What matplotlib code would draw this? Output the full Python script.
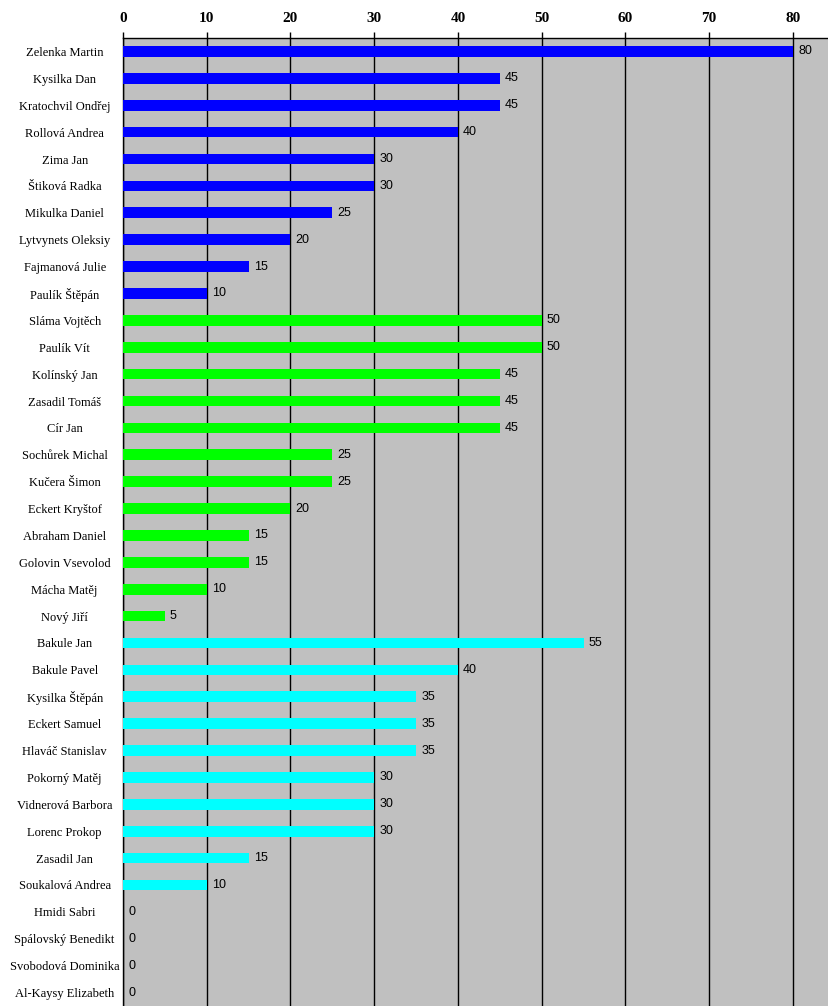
import matplotlib.pyplot as plt

names_blue = ['Zelenka Martin', 'Kysilka Dan', 'Kratochvil Ondřej', 'Rollová Andrea',
              'Zima Jan', 'Štiková Radka', 'Mikulka Daniel', 'Lytvynets Oleksiy',
              'Fajmanová Julie', 'Paulík Štěpán']
values_blue = [80, 45, 45, 40, 30, 30, 25, 20, 15, 10]

names_green = ['Sláma Vojtěch', 'Paulík Vít', 'Kolínský Jan', 'Zasadil Tomáš', 'Cír Jan',
               'Sochůrek Michal', 'Kučera Šimon', 'Eckert Kryštof', 'Abraham Daniel',
               'Golovin Vsevolod', 'Mácha Matěj', 'Nový Jiří']
values_green = [50, 50, 45, 45, 45, 25, 25, 20, 15, 15, 10, 5]

names_cyan = ['Bakule Jan', 'Bakule Pavel', 'Kysilka Štěpán', 'Eckert Samuel',
              'Hlaváč Stanislav', 'Pokorný Matěj', 'Vidnerová Barbora', 'Lorenc Prokop',
              'Zasadil Jan', 'Soukalová Andrea', 'Hmidi Sabri', 'Spálovský Benedikt',
              'Svobodová Dominika', 'Al-Kaysy Elizabeth']
values_cyan = [55, 40, 35, 35, 35, 30, 30, 30, 15, 10, 0, 0, 0, 0]

x_ticks = [0, 10, 20, 30, 40, 50, 60, 70, 80]

names = names_blue + names_green + names_cyan
values = values_blue + values_green + values_cyan
colors = (['#0000FF'] * len(names_blue) + ['#00FF00'] * len(names_green)
          + ['#00FFFF'] * len(names_cyan))
pos = list(range(len(names)))

fig = plt.figure(figsize=(8.29, 10.06), dpi=100)
ax = fig.add_axes([123 / 829, 0.0, 1 - 123 / 829, 1 - 38 / 1006])
ax.set_facecolor('#C0C0C0')

ax.barh(pos, values, height=0.4, color=colors, zorder=3)
for p, v in zip(pos, values):
    ax.text(v + 0.6, p, str(v), va='center', ha='left', fontsize=9,
            family='Liberation Sans', zorder=4)

ax.set_xlim(0, 84.3)
ax.set_ylim(len(names) - 0.5, -0.5)
ax.set_xticks(x_ticks)
ax.xaxis.tick_top()
ax.tick_params(axis='x', length=4, width=1, pad=5)
for lab in ax.get_xticklabels():
    lab.set_fontfamily('Liberation Serif')
    lab.set_fontweight('bold')
    lab.set_fontsize(11)
ax.grid(axis='x', color='black', linewidth=1, zorder=1)

ax.set_yticks(pos)
ax.set_yticklabels(names, fontsize=9, family='Liberation Serif', ha='center')
ax.tick_params(axis='y', length=0, pad=42)

for side in ['right', 'bottom']:
    ax.spines[side].set_visible(False)
ax.spines['top'].set_linewidth(1)
ax.spines['left'].set_linewidth(1)

fig.savefig('out.png', dpi=100)
